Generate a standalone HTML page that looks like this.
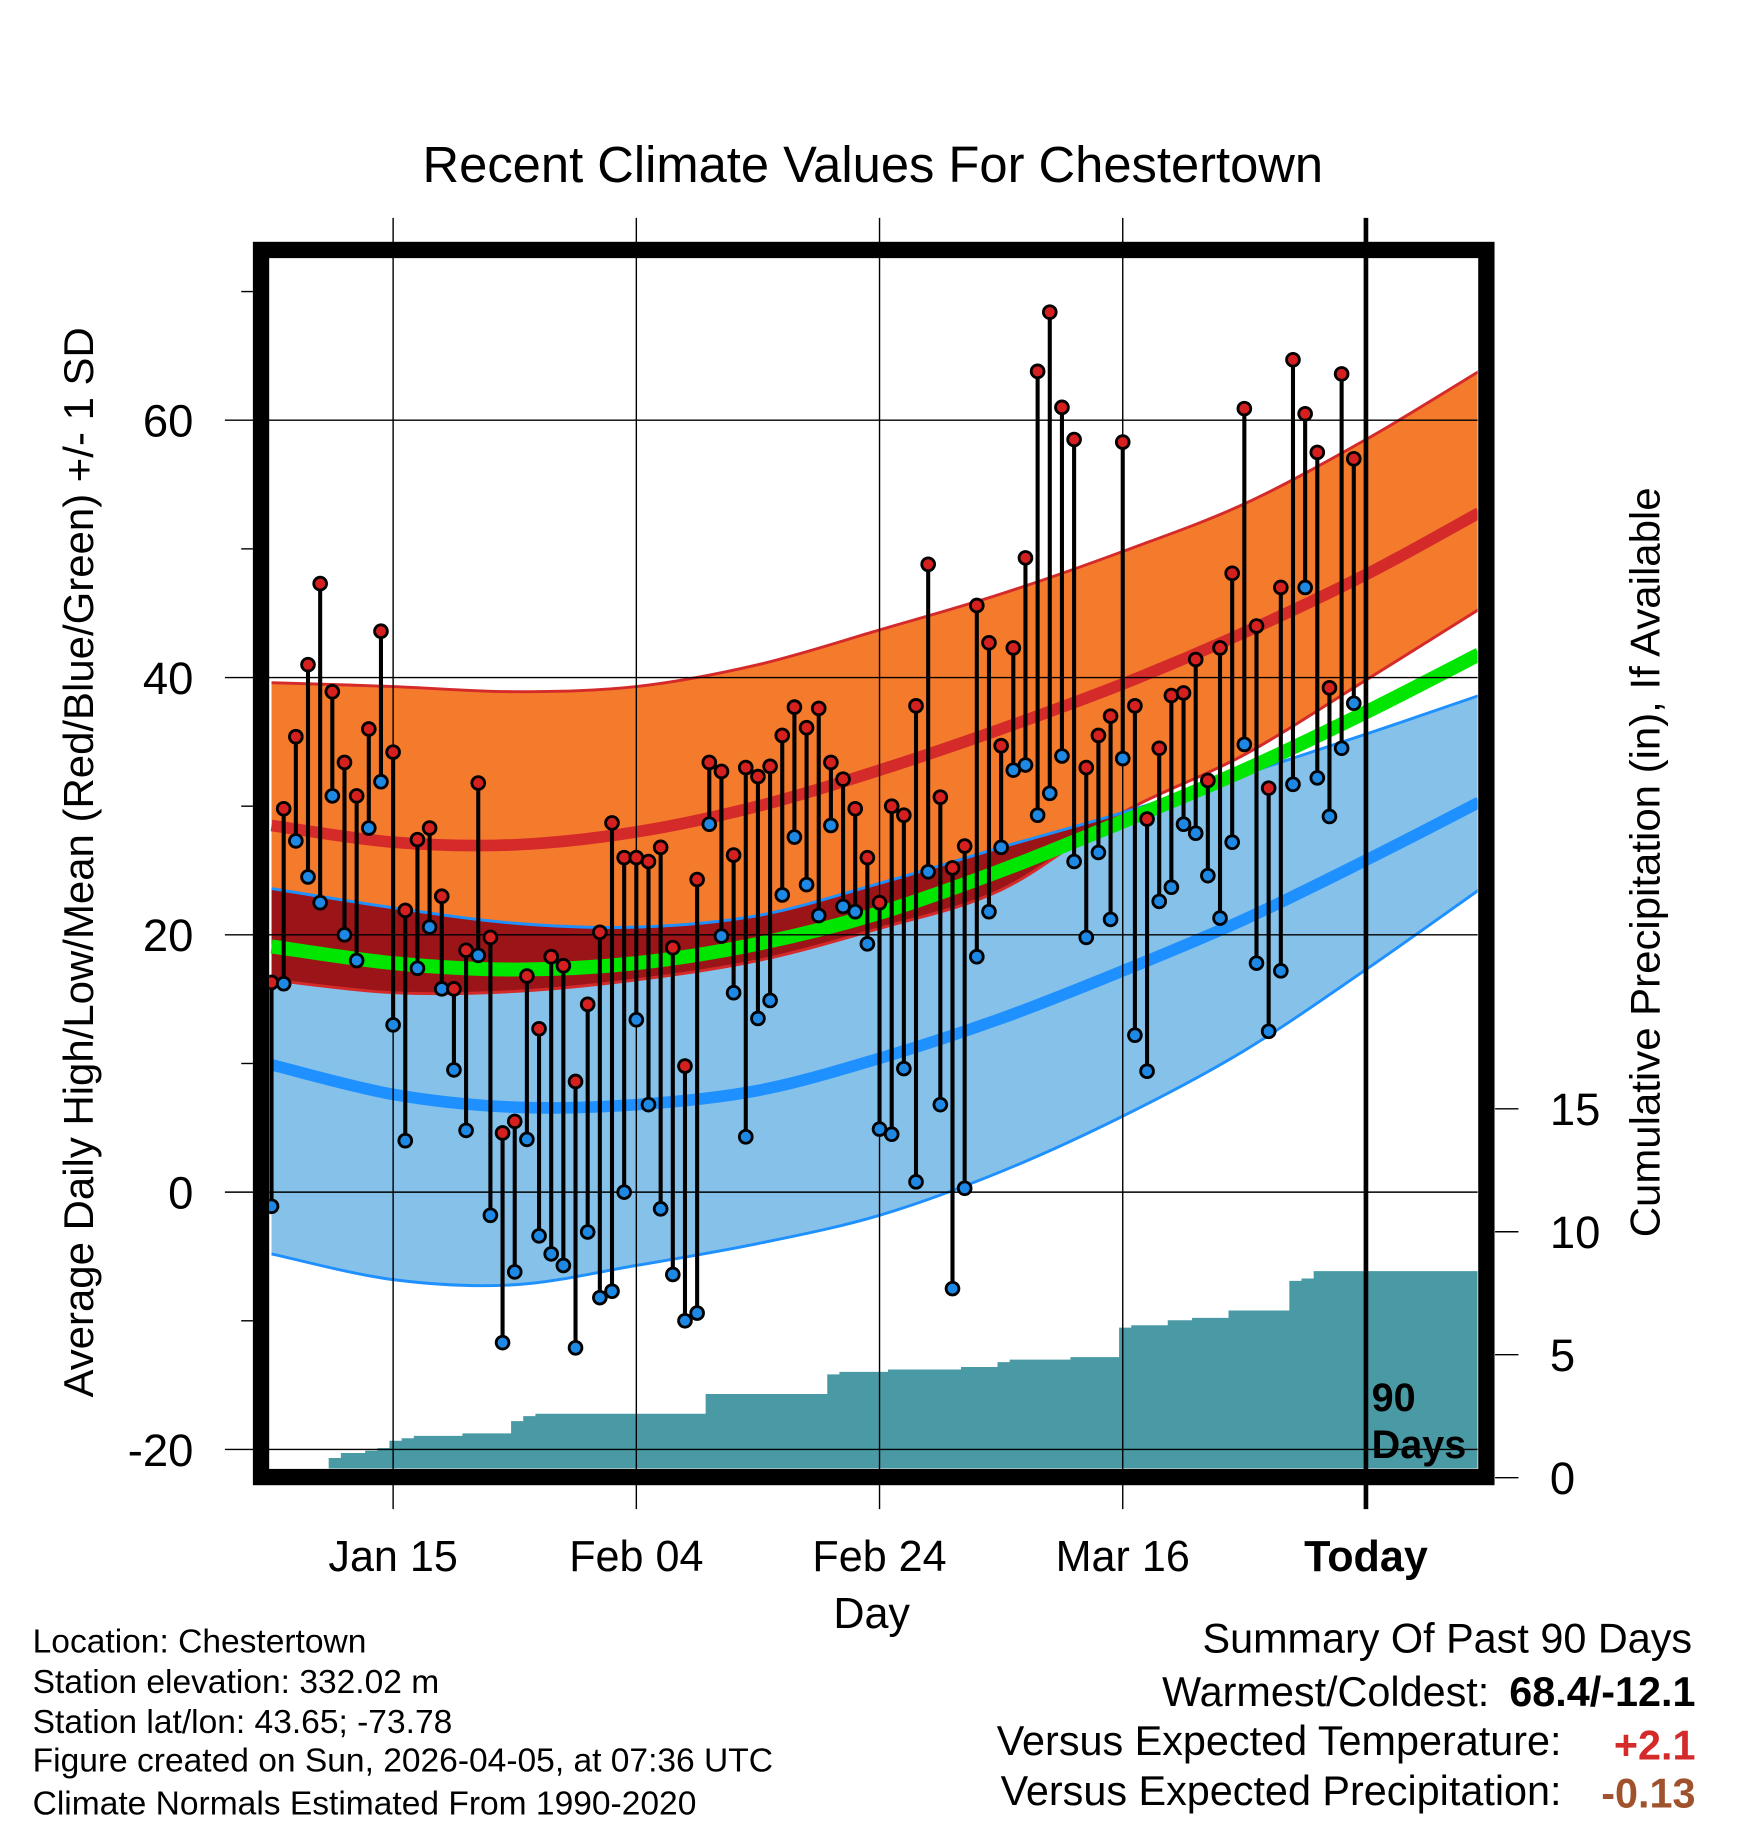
<!DOCTYPE html>
<html><head><meta charset="utf-8"><style>
html,body{margin:0;padding:0;background:#fff;}
svg{display:block;font-family:"Liberation Sans",Arial,sans-serif;}
</style></head><body>
<svg id="chart" width="1748" height="1828" viewBox="0 0 1500 1568.65" xmlns="http://www.w3.org/2000/svg">
<defs>
<clipPath id="plotclip"><rect x="231" y="222" width="1037" height="1038"/></clipPath>
</defs>
<rect width="1500" height="1569" fill="#fff"/>
<text x="749" y="156" font-size="43.5" text-anchor="middle">Recent Climate Values For Chestertown</text>
<g id="layers"></g>
<text transform="translate(80,740) rotate(-90)" font-size="36" text-anchor="middle">Average Daily High/Low/Mean (Red/Blue/Green) +/- 1 SD</text>
<text transform="translate(1424,740) rotate(-90)" font-size="36" text-anchor="middle">Cumulative Precipitation (in), If Available</text>
<text x="748" y="1397" font-size="37" text-anchor="middle">Day</text>
<g font-size="28.8">
<text x="28" y="1418">Location: Chestertown</text>
<text x="28" y="1453">Station elevation: 332.02 m</text>
<text x="28" y="1487">Station lat/lon: 43.65; -73.78</text>
<text x="28" y="1520">Figure created on Sun, 2026-04-05, at 07:36 UTC</text>
<text x="28" y="1557">Climate Normals Estimated From 1990-2020</text>
</g>
<g font-size="35.5">
<text x="1452" y="1418" text-anchor="end">Summary Of Past 90 Days</text>
<text x="1278" y="1464" text-anchor="end">Warmest/Coldest:</text>
<text x="1455" y="1464" text-anchor="end" font-weight="bold">68.4/-12.1</text>
<text x="1340" y="1506" text-anchor="end">Versus Expected Temperature:</text>
<text x="1455" y="1510" text-anchor="end" font-weight="bold" fill="#d42a2a">+2.1</text>
<text x="1340" y="1549" text-anchor="end">Versus Expected Precipitation:</text>
<text x="1455" y="1551" text-anchor="end" font-weight="bold" fill="#a0522d">-0.13</text>
</g>
</svg>
<script>
const highs=[16.3,29.8,35.4,41,47.3,38.9,33.4,30.8,36,43.6,34.2,21.9,27.4,28.3,23,15.8,18.8,31.8,19.8,4.6,5.5,16.8,12.7,18.3,17.6,8.6,14.6,20.2,28.7,26,26,25.7,26.8,19,9.8,24.3,33.4,32.7,26.2,33,32.3,33.1,35.5,37.7,36.1,37.6,33.4,32.1,29.8,26,22.5,30,29.3,37.8,48.8,30.7,25.2,26.9,45.6,42.7,34.7,42.3,49.3,63.8,68.4,61,58.5,33,35.5,37,58.3,37.8,29,34.5,38.6,38.8,41.4,32,42.3,48.1,60.9,44,31.4,47,64.7,60.5,57.5,39.2,63.6,57];
const lows=[-1.1,16.2,27.3,24.5,22.5,30.8,20,18,28.3,31.9,13,4,17.4,20.6,15.8,9.5,4.8,18.4,-1.8,-11.7,-6.2,4.1,-3.4,-4.8,-5.7,-12.1,-3.1,-8.2,-7.7,0,13.4,6.8,-1.3,-6.4,-10,-9.4,28.6,19.9,15.5,4.3,13.5,14.9,23.1,27.6,23.9,21.5,28.5,22.2,21.8,19.3,4.9,4.5,9.6,0.8,24.9,6.8,-7.5,0.3,18.3,21.8,26.8,32.8,33.2,29.3,31,33.9,25.7,19.8,26.4,21.2,33.7,12.2,9.4,22.6,23.7,28.6,27.9,24.6,21.3,27.2,34.8,17.8,12.5,17.2,31.7,47,32.2,29.2,34.5,38];
const precip=[0,0,0,0,0,0.8,1.0,1.0,1.1,1.2,1.5,1.6,1.7,1.7,1.7,1.7,1.8,1.8,1.8,1.8,2.3,2.5,2.6,2.6,2.6,2.6,2.6,2.6,2.6,2.6,2.6,2.6,2.6,2.6,2.6,2.6,3.4,3.4,3.4,3.4,3.4,3.4,3.4,3.4,3.4,3.4,4.2,4.3,4.3,4.3,4.3,4.4,4.4,4.4,4.4,4.4,4.4,4.5,4.5,4.5,4.7,4.8,4.8,4.8,4.8,4.8,4.9,4.9,4.9,4.9,6.1,6.2,6.2,6.2,6.4,6.4,6.5,6.5,6.5,6.8,6.8,6.8,6.8,6.8,8.0,8.1,8.4,8.4,8.4,8.4];
const normDays=[0,10,20,30,40,50,60,70,80,90,99.3];
const highMean=[28.5,27.2,27,28,30,32.8,36,39.5,43.5,48,52.8];
const highPlus=[39.6,39.3,38.9,39.3,41,43.7,46.5,49.8,53.5,58.5,63.8];
const highMinus=[16.5,15.5,15.6,16.5,18,20.5,23.5,29.5,34,39.8,45.3];
const avgMean=[19.1,17.8,17.3,17.8,19.3,21.7,25,28.8,32.8,37.3,41.8];
const lowPlus=[23.6,22.1,20.9,20.6,21.5,24,26.8,29.5,32.5,35.6,38.6];
const lowMean=[9.9,7.6,6.6,6.8,7.9,10.4,13.5,17.2,21.2,25.8,30.3];
const lowMinus=[-4.8,-6.8,-7.2,-5.7,-4,-1.8,1.6,5.9,11,17.3,23.5];
const yTicks=[60,40,20,0,-20];
const yMinor=[70,50,30,10,-10];
const pTicks=[0,5,10,15];
const xTickDays=[10,30,50,70,90];
const xTickLabels=["Jan 15","Feb 04","Feb 24","Mar 16","Today"];

const X=d=>233+d*10.435;
const Y=v=>1023-v*11.04;
const P=p=>1268-p*21.1;
const NS="http://www.w3.org/2000/svg";
const root=document.getElementById('layers');
function mk(tag,attrs,parent){const e=document.createElementNS(NS,tag);for(const k in attrs)e.setAttribute(k,attrs[k]);(parent||root).appendChild(e);return e;}
function pts(vals){return normDays.map((d,i)=>[X(d),Y(vals[i])]);}
function smooth(p){let s="M"+p[0][0]+","+p[0][1];for(let i=0;i<p.length-1;i++){const p0=p[Math.max(0,i-1)],p1=p[i],p2=p[i+1],p3=p[Math.min(p.length-1,i+2)];const c1=[p1[0]+(p2[0]-p0[0])/6,p1[1]+(p2[1]-p0[1])/6],c2=[p2[0]-(p3[0]-p1[0])/6,p2[1]-(p3[1]-p1[1])/6];s+=" C"+c1+" "+c2+" "+p2;}return s;}
function band(up,dn){const a=smooth(pts(up));const b=pts(dn).reverse();return a+" L"+smooth(b).slice(1)+" Z";}

const g=mk('g',{'clip-path':'url(#plotclip)'});
const hb=mk('path',{d:band(highPlus,highMinus),fill:'#f47a2c'},g);

const lb=mk('path',{d:band(lowPlus,lowMinus),fill:'#85c1e9'},g);

const cp=mk('clipPath',{id:'hbclip'},g);
mk('path',{d:band(highPlus,highMinus)},cp);
const ov=mk('path',{d:band(lowPlus,lowMinus),fill:'#9b1518','clip-path':'url(#hbclip)'},g);

[[highPlus,'#d42a2a',2.5,'high-plus-sd-edge'],[highMinus,'#d42a2a',2.5,'high-minus-sd-edge'],[lowPlus,'#1e90ff',2.5,'low-plus-sd-edge'],[lowMinus,'#1e90ff',2.5,'low-minus-sd-edge'],[highMean,'#d42a2a',10,'normal-high-line'],[avgMean,'#00e600',12,'normal-mean-line'],[lowMean,'#1e90ff',10,'normal-low-line']].forEach(([v,c,w,n])=>{
 const l=mk('path',{d:smooth(pts(v)),fill:'none',stroke:c,'stroke-width':w},g);
 });
let pd="M"+X(0)+","+P(0);
precip.forEach((p,i)=>{pd+=" L"+X(i-0.3)+","+P(p)+" L"+X(i+0.7)+","+P(p);});
pd+=" L1268,"+P(precip[precip.length-1])+" L1268,1268 Z";
const pa=mk('path',{d:pd,fill:'#4a9aa5'},g);

yTicks.forEach(v=>{const l=mk('line',{x1:193,x2:1268,y1:Y(v),y2:Y(v),stroke:'#000','stroke-width':1.2});
 
 const t=mk('text',{x:166,y:Y(v)+14,'font-size':39,'text-anchor':'end'});t.textContent=v;
 });
yMinor.forEach(v=>{const l=mk('line',{x1:207,x2:217,y1:Y(v),y2:Y(v),stroke:'#000','stroke-width':1.2});
 });
xTickDays.forEach((d,i)=>{const last=i===xTickDays.length-1;
 const l=mk('line',{x1:X(d),x2:X(d),y1:187,y2:1295,stroke:'#000','stroke-width':last?4:1.2});
 
 const t=mk('text',{x:X(d),y:1348,'font-size':37,'text-anchor':'middle','font-weight':last?'bold':'normal'});t.textContent=xTickLabels[i];
 });
pTicks.forEach(v=>{const l=mk('line',{x1:1283,x2:1303,y1:P(v),y2:P(v),stroke:'#000','stroke-width':1.2});
 
 const t=mk('text',{x:1330,y:P(v)+14,'font-size':39});t.textContent=v;
 });
const sg=mk('g',{'clip-path':'url(#plotclip)'});
highs.forEach((h,i)=>{const s=mk('line',{x1:X(i),x2:X(i),y1:Y(h),y2:Y(lows[i]),stroke:'#000','stroke-width':3.5},sg);
 });
highs.forEach((h,i)=>{const c=mk('circle',{cx:X(i),cy:Y(h),r:5.5,fill:'#d62020',stroke:'#000','stroke-width':2.4},sg);
 
 const d=mk('circle',{cx:X(i),cy:Y(lows[i]),r:5.5,fill:'#1e88e5',stroke:'#000','stroke-width':2.4},sg);
 });
const fr=mk('rect',{x:224,y:214.5,width:1051.5,height:1053,fill:'none',stroke:'#000','stroke-width':14});

const t1=mk('text',{x:1177,y:1211,'font-size':34,'font-weight':'bold'});t1.textContent='90';

const t2=mk('text',{x:1177,y:1251,'font-size':34,'font-weight':'bold'});t2.textContent='Days';

</script>
</body></html>
